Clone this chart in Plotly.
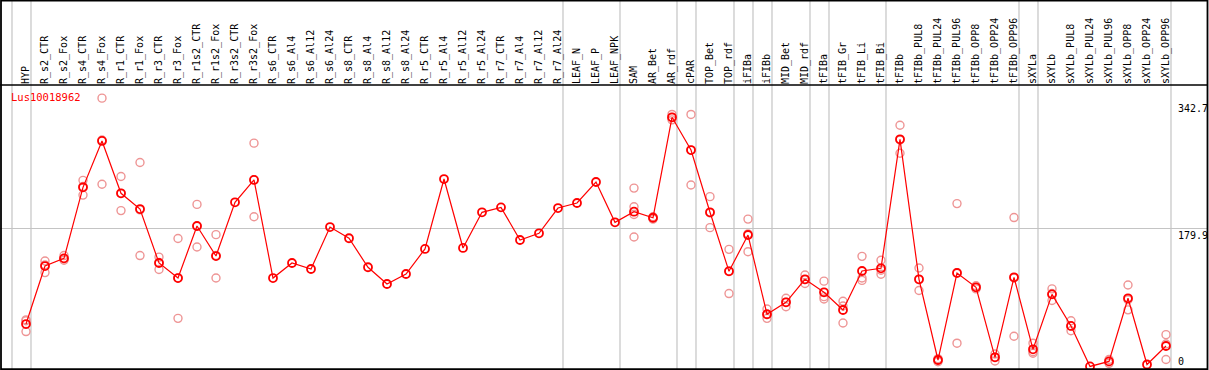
import plotly.graph_objects as go

# ---------------- data ----------------
categories = [
    "HYP", "R_s2_CTR", "R_s2_Fox", "R_s4_CTR", "R_s4_Fox", "R_r1_CTR", "R_r1_Fox",
    "R_r3_CTR", "R_r3_Fox", "R_r1s2_CTR", "R_r1s2_Fox", "R_r3s2_CTR", "R_r3s2_Fox",
    "R_s6_CTR", "R_s6_Al4", "R_s6_Al12", "R_s6_Al24", "R_s8_CTR", "R_s8_Al4",
    "R_s8_Al12", "R_s8_Al24", "R_r5_CTR", "R_r5_Al4", "R_r5_Al12", "R_r5_Al24",
    "R_r7_CTR", "R_r7_Al4", "R_r7_Al12", "R_r7_Al24", "LEAF_N", "LEAF_P", "LEAF_NPK",
    "SAM", "AR_Bet", "AR_rdf", "cPAR", "TOP_Bet", "TOP_rdf", "iFIBa", "iFIBb",
    "MID_Bet", "MID_rdf", "tFIBa", "tFIB_Gr", "tFIB_Li", "tFIB_Bi", "tFIBb",
    "tFIBb_PUL8", "tFIBb_PUL24", "tFIBb_PUL96", "tFIBb_OPP8", "tFIBb_OPP24",
    "tFIBb_OPP96", "sXYLa", "sXYLb", "sXYLb_PUL8", "sXYLb_PUL24", "sXYLb_PUL96",
    "sXYLb_OPP8", "sXYLb_OPP24", "sXYLb_OPP96",
]

means = [
    56.7, 131.5, 141.4, 233.0, 292.8, 225.3, 205.0, 135.4, 116.0, 183.1,
    144.4, 213.7, 242.5, 116.0, 135.4, 127.7, 181.8, 167.3, 129.9, 108.3,
    121.2, 153.5, 243.7, 154.8, 200.8, 207.2, 165.1, 173.7, 206.3, 212.8,
    239.9, 187.9, 201.6, 193.8, 323.3, 281.1, 200.8, 124.7, 171.5, 69.3,
    84.7, 114.4, 97.6, 74.8, 125.1, 128.6, 294.9, 114.4, 10.3, 122.5,
    104.1, 13.8, 117.0, 24.1, 95.0, 54.2, 2.0, 8.5, 89.9, 4.5,
    28.4,
]

replicates = [
    [62, 61, 47], [138, 133, 123], [145, 141, 139], [242, 234, 223], [348, 294, 237],
    [247, 225, 203], [265, 204, 145], [143, 136, 127], [167, 116, 64], [211, 183, 156],
    [172, 145, 116], [], [290, 243, 195], [], [],
    [], [], [], [], [],
    [], [], [], [], [],
    [], [], [], [], [],
    [], [], [232, 208, 198, 169], [195, 193, 192], [327, 323, 320],
    [327, 281, 236], [221, 200, 181], [153, 125, 96], [192, 173, 150], [76, 69, 64],
    [90, 85, 79], [120, 114, 109], [112, 92, 89], [86, 80, 58], [144, 116, 113],
    [139, 126, 121], [313, 294, 277], [129, 114, 100], [12, 10, 8], [212, 123, 32],
    [106, 104, 102], [18, 14, 9], [194, 116, 41], [32, 21, 19], [102, 96, 87],
    [61, 54, 48], [], [11, 8, 6], [107, 88, 75], [],
    [43, 31, 11],
]

# separators drawn after these groups (plus one before the first category)
group_ends = ["HYP", "R_r7_Al24", "LEAF_NPK", "AR_rdf", "cPAR", "TOP_rdf", "iFIBa",
              "iFIBb", "MID_rdf", "tFIBa", "tFIB_Bi", "tFIBb_OPP96", "sXYLa", "sXYLb_OPP96"]

y_tick_values = [0, 179.9, 342.7]
y_tick_text = ["0", "179.9", "342.7"]
gene = "Lus10018962"

# ---------------- layout geometry ----------------
W, H = 1209, 370
TOP = 85
PLOT_H = H - TOP
STEP = 19.0
FIRST = 26.0
x_range = [-FIRST / STEP, (W - FIRST) / STEP]
y_range = [-2.58, 364.97]
RIGHT = 1207.5 / W
FONT = "DejaVu Sans Mono"

xs = list(range(len(categories)))

rep_x, rep_y = [], []
for i, reps in enumerate(replicates):
    for v in reps:
        rep_x.append(i)
        rep_y.append(v)

fig = go.Figure()
fig.add_trace(go.Scatter(
    x=rep_x, y=rep_y, mode="markers", hoverinfo="skip",
    marker=dict(symbol="circle-open", size=8, color="#ee9595", line=dict(width=1.4, color="#ee9595")),
    showlegend=False,
))
fig.add_trace(go.Scatter(
    x=xs, y=means, mode="lines+markers",
    line=dict(color="#ff0000", width=1.2),
    marker=dict(symbol="circle-open", size=8, color="#ff0000", line=dict(width=1.8, color="#ff0000")),
    showlegend=False,
))

shapes = []
sep_positions = [-1] + [categories.index(c) for c in group_ends]
for p in sep_positions:
    xv = p + 5.0 / STEP
    shapes.append(dict(type="line", xref="x", yref="paper", x0=xv, x1=xv,
                       y0=0, y1=H / PLOT_H, line=dict(color="#c4c4c4", width=1.2), layer="below"))
# horizontal grid line
shapes.append(dict(type="line", xref="paper", yref="y", x0=0, x1=RIGHT,
                   y0=y_tick_values[1], y1=y_tick_values[1],
                   line=dict(color="#c4c4c4", width=1.2), layer="below"))
# separator between labels and plot
shapes.append(dict(type="line", xref="paper", yref="paper", x0=0, x1=RIGHT, y0=1, y1=1,
                   line=dict(color="black", width=1.5)))
# outer frame
shapes.append(dict(type="rect", xref="paper", yref="paper", x0=1.0 / W, x1=RIGHT,
                   y0=0.8 / PLOT_H, y1=(H - 0.6) / PLOT_H,
                   line=dict(color="black", width=1.8), fillcolor="rgba(0,0,0,0)"))

annotations = []
for v, t in zip(y_tick_values, y_tick_text):
    annotations.append(dict(
        xref="paper", yref="y", x=1176.5 / W, y=v, text=t, showarrow=False,
        xanchor="left", yanchor="bottom" if v == 0 else "top",
        font=dict(family=FONT, size=10, color="black"), borderpad=0,
    ))
annotations.append(dict(
    xref="paper", yref="paper", x=8.5 / W, y=(H - 97) / PLOT_H, text=gene, showarrow=False,
    xanchor="left", yanchor="middle", font=dict(family=FONT, size=10.5, color="#ff0000"),
))

fig.update_layout(
    width=W, height=H,
    margin=dict(l=0, r=0, t=TOP, b=0, pad=0),
    paper_bgcolor="white", plot_bgcolor="white",
    shapes=shapes, annotations=annotations,
    xaxis=dict(
        range=x_range, side="top", tickmode="array", tickvals=xs, ticktext=categories,
        tickangle=-90, ticks="", showgrid=False, zeroline=False, showline=False,
        tickfont=dict(family=FONT, size=10, color="black"), automargin=False, fixedrange=True,
    ),
    yaxis=dict(
        range=y_range, showgrid=False, zeroline=False, showline=False,
        showticklabels=False, ticks="", automargin=False, fixedrange=True,
    ),
)

fig.write_html(
    "out.html",
    config={"displayModeBar": False},
    post_script="document.body.style.margin='0';document.body.style.padding='0';document.body.style.overflow='hidden';",
)
